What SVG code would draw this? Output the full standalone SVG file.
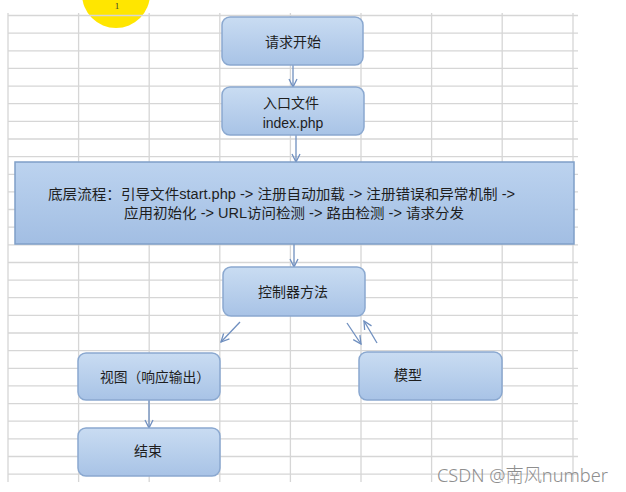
<svg xmlns="http://www.w3.org/2000/svg" width="626" height="492" viewBox="0 0 626 492">
<defs>
<linearGradient id="gBox" x1="0" y1="0" x2="0" y2="1">
<stop offset="0" stop-color="#c9dcf2"/>
<stop offset="1" stop-color="#a8c3e6"/>
</linearGradient>
<linearGradient id="gBig" x1="0" y1="0" x2="0" y2="1">
<stop offset="0" stop-color="#bcd3ef"/>
<stop offset="1" stop-color="#a2bee3"/>
</linearGradient>
<marker id="arr" viewBox="0 0 10 10" refX="9" refY="5" markerWidth="10" markerHeight="10" markerUnits="userSpaceOnUse" orient="auto">
<path d="M1,1 L9,5 L1,9" fill="none" stroke="#6f8fbf" stroke-width="1.3"/>
</marker>
</defs>
<style>
.grid line{stroke:#d6d6d6;stroke-width:1.3}
.box{fill:url(#gBox);stroke:#8aa8d0;stroke-width:1.5}
.big{fill:url(#gBig);stroke:#7f9fc8;stroke-width:1.5}
.t{font-family:"Liberation Sans","Noto Sans CJK SC",sans-serif;font-size:14px;fill:#1e1e1e;dominant-baseline:central}
.c{text-anchor:middle}
.conn line{stroke:#6f8fbf;stroke-width:1.3;marker-end:url(#arr)}
</style>
<rect width="626" height="492" fill="#ffffff"/>
<circle cx="116" cy="-6" r="34" fill="#ffe600"/>
<text x="117" y="9" font-family="Liberation Serif,serif" font-size="9" text-anchor="middle" fill="#333">1</text>
<g class="grid">
<line x1="8" y1="15.5" x2="578" y2="15.5"/>
<line x1="8" y1="33.1" x2="578" y2="33.1"/>
<line x1="8" y1="50.8" x2="578" y2="50.8"/>
<line x1="8" y1="68.4" x2="578" y2="68.4"/>
<line x1="8" y1="86.1" x2="578" y2="86.1"/>
<line x1="8" y1="103.7" x2="578" y2="103.7"/>
<line x1="8" y1="121.3" x2="578" y2="121.3"/>
<line x1="8" y1="139.0" x2="578" y2="139.0"/>
<line x1="8" y1="156.6" x2="578" y2="156.6"/>
<line x1="8" y1="174.3" x2="578" y2="174.3"/>
<line x1="8" y1="191.9" x2="578" y2="191.9"/>
<line x1="8" y1="209.5" x2="578" y2="209.5"/>
<line x1="8" y1="227.2" x2="578" y2="227.2"/>
<line x1="8" y1="244.8" x2="578" y2="244.8"/>
<line x1="8" y1="262.5" x2="578" y2="262.5"/>
<line x1="8" y1="280.1" x2="578" y2="280.1"/>
<line x1="8" y1="297.7" x2="578" y2="297.7"/>
<line x1="8" y1="315.4" x2="578" y2="315.4"/>
<line x1="8" y1="333.0" x2="578" y2="333.0"/>
<line x1="8" y1="350.7" x2="578" y2="350.7"/>
<line x1="8" y1="368.3" x2="578" y2="368.3"/>
<line x1="8" y1="385.9" x2="578" y2="385.9"/>
<line x1="8" y1="403.6" x2="578" y2="403.6"/>
<line x1="8" y1="421.2" x2="578" y2="421.2"/>
<line x1="8" y1="438.9" x2="578" y2="438.9"/>
<line x1="8" y1="456.5" x2="578" y2="456.5"/>
<line x1="8" y1="474.1" x2="578" y2="474.1"/>
<line x1="8" y1="13" x2="8" y2="482"/>
<line x1="78.6" y1="13" x2="78.6" y2="482"/>
<line x1="149.2" y1="13" x2="149.2" y2="482"/>
<line x1="219.8" y1="13" x2="219.8" y2="482"/>
<line x1="290.4" y1="13" x2="290.4" y2="482"/>
<line x1="361" y1="13" x2="361" y2="482"/>
<line x1="431.6" y1="13" x2="431.6" y2="482"/>
<line x1="502.2" y1="13" x2="502.2" y2="482"/>
<line x1="573" y1="13" x2="573" y2="482"/>
</g>
<g class="conn">
<line x1="293" y1="65" x2="293" y2="87"/>
<line x1="296" y1="135" x2="296" y2="162"/>
<line x1="294" y1="244" x2="294" y2="267"/>
<line x1="240" y1="322" x2="221" y2="342"/>
<line x1="347" y1="323" x2="361" y2="344"/>
<line x1="377" y1="343" x2="364" y2="321"/>
<line x1="149" y1="400" x2="149" y2="428"/>
</g>
<g id="start">
<rect class="box" x="222" y="17" width="141" height="48" rx="8"/>
<text class="t c" x="293" y="42">请求开始</text>
</g>
<g id="entry">
<rect class="box" x="222" y="87" width="142" height="48" rx="8"/>
<text class="t c" x="291" y="103">入口文件</text>
<text class="t c" x="293" y="123">index.php</text>
</g>
<g id="flow">
<rect class="big" x="15" y="162" width="559" height="82"/>
<text class="t" x="48" y="194" textLength="467" lengthAdjust="spacingAndGlyphs">底层流程：引导文件start.php -&gt; 注册自动加载 -&gt; 注册错误和异常机制 -&gt;</text>
<text class="t" x="124" y="213" textLength="340" lengthAdjust="spacingAndGlyphs">应用初始化 -&gt; URL访问检测 -&gt; 路由检测 -&gt; 请求分发</text>
</g>
<g id="controller">
<rect class="box" x="223" y="267" width="142" height="49" rx="8"/>
<text class="t c" x="293" y="292">控制器方法</text>
</g>
<g id="view">
<rect class="box" x="78" y="353" width="142" height="47" rx="8"/>
<text class="t" x="100" y="377" textLength="110" lengthAdjust="spacingAndGlyphs">视图（响应输出）</text>
</g>
<g id="model">
<rect class="box" x="359" y="352" width="143" height="48" rx="8"/>
<text class="t" x="394" y="375">模型</text>
</g>
<g id="end">
<rect class="box" x="78" y="428" width="142" height="48" rx="8"/>
<text class="t c" x="148" y="451">结束</text>
</g>
<text x="437" y="482" font-family="Noto Sans,Noto Sans CJK SC,sans-serif" font-size="19" font-weight="300" fill="#8e8e8e" textLength="171" lengthAdjust="spacingAndGlyphs">CSDN @南风number</text>
</svg>
